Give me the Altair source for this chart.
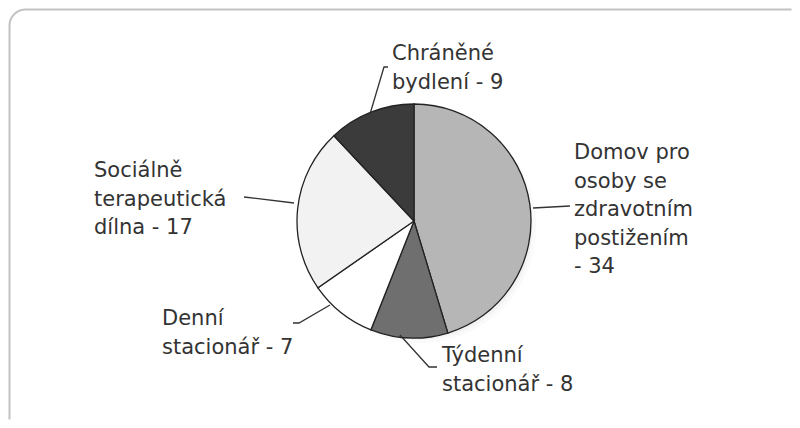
import math
import altair as alt
import pandas as pd

# ---- data ----
categories = [
    "Domov pro osoby se zdravotním postižením",
    "Týdenní stacionář",
    "Denní stacionář",
    "Sociálně terapeutická dílna",
    "Chráněné bydlení",
]
values = [34, 8, 7, 17, 9]
colors = ["#b6b6b6", "#6f6f6f", "#ffffff", "#f2f2f2", "#3b3b3b"]

label_text = [
    "Domov pro\nosoby se\nzdravotním\npostižením\n- 34",
    "Týdenní\nstacionář - 8",
    "Denní\nstacionář - 7",
    "Sociálně\nterapeutická\ndílna - 17",
    "Chráněné\nbydlení - 9",
]
# label anchor (left x, first baseline y) in page pixels
label_x = [574, 442, 162, 94, 392]
label_y = [159, 362, 325, 177, 60]

# leader polylines, page pixels
leaders = [
    [(533, 208), (570, 206)],
    [(400, 335), (429, 367), (437, 367)],
    [(330, 305), (299, 323), (293, 323)],
    [(294, 203), (244, 197)],
    [(370, 114), (384, 67), (388, 67)],
]

CX, CY, R = 414, 221, 117
OFF = 8

pie_df = pd.DataFrame({"cat": categories, "val": values, "idx": list(range(len(values)))})
lab_df = pd.DataFrame({"label": label_text, "x": label_x, "y": label_y})
lead_rows = []
for i, pts in enumerate(leaders):
    for j, (px, py) in enumerate(pts):
        lead_rows.append({"g": i, "o": j, "x": px, "y": py})
lead_df = pd.DataFrame(lead_rows)

# frame outline: left edge, rounded top-left corner, top edge (page pixels)
BL, BT, BR = 9.5, 9.5, 16
frame = [(BL, 419.5)]
for k in range(0, 13):
    a = math.pi + k * (math.pi / 2) / 12
    frame.append((BL + BR + BR * math.cos(a), BT + BR + BR * math.sin(a)))
frame.append((791.5, BT))
frame_df = pd.DataFrame({"x": [p[0] for p in frame], "y": [p[1] for p in frame],
                         "o": list(range(len(frame)))})

xs = alt.Scale(domain=[8, 792], range=[0, 784])
ys = alt.Scale(domain=[8, 420], range=[0, 412])

border = alt.Chart(frame_df).mark_line(color="#c2c2c2", strokeWidth=2, clip=False).encode(
    x=alt.X("x:Q", scale=xs, axis=None),
    y=alt.Y("y:Q", scale=ys, axis=None),
    order="o:Q",
)

shadow_layers = []
for k, (dr, op) in enumerate([(14, 0.03), (10, 0.04), (6, 0.05), (2, 0.07)]):
    rr = R + dr
    shadow_layers.append(
        alt.Chart(pd.DataFrame({"a": [0]})).mark_circle(
            color="#555555", opacity=op
        ).encode(
            x=alt.value(CX - OFF + 6), y=alt.value(CY - OFF + 6),
            size=alt.value(3.14159 * rr * rr)
        )
    )

pie = alt.Chart(pie_df).mark_arc(
    outerRadius=R, stroke="#222222", strokeWidth=1.3
).encode(
    theta=alt.Theta("val:Q", stack=True),
    order=alt.Order("idx:Q"),
    color=alt.Color("cat:N", scale=alt.Scale(domain=categories, range=colors), legend=None),
    x=alt.value(CX - OFF), y=alt.value(CY - OFF),
)

lines = alt.Chart(lead_df).mark_line(color="#333333", strokeWidth=1.3).encode(
    x=alt.X("x:Q", scale=xs, axis=None),
    y=alt.Y("y:Q", scale=ys, axis=None),
    detail="g:N",
    order="o:Q",
)

labels = alt.Chart(lab_df).mark_text(
    align="left", baseline="alphabetic", font="DejaVu Sans", fontSize=21,
    color="#333333", lineBreak="\n", lineHeight=28.5
).encode(
    x=alt.X("x:Q", scale=xs, axis=None),
    y=alt.Y("y:Q", scale=ys, axis=None),
    text="label:N",
)

chart = alt.layer(border, *shadow_layers, pie, lines, labels).resolve_scale(
    theta="independent"
).properties(
    width=784, height=412, padding=0, autosize=alt.AutoSizeParams(type="none")
).configure_view(stroke="transparent", strokeWidth=0, strokeOpacity=0)

chart.save("out.html", embed_options={"renderer": "svg", "actions": False})
